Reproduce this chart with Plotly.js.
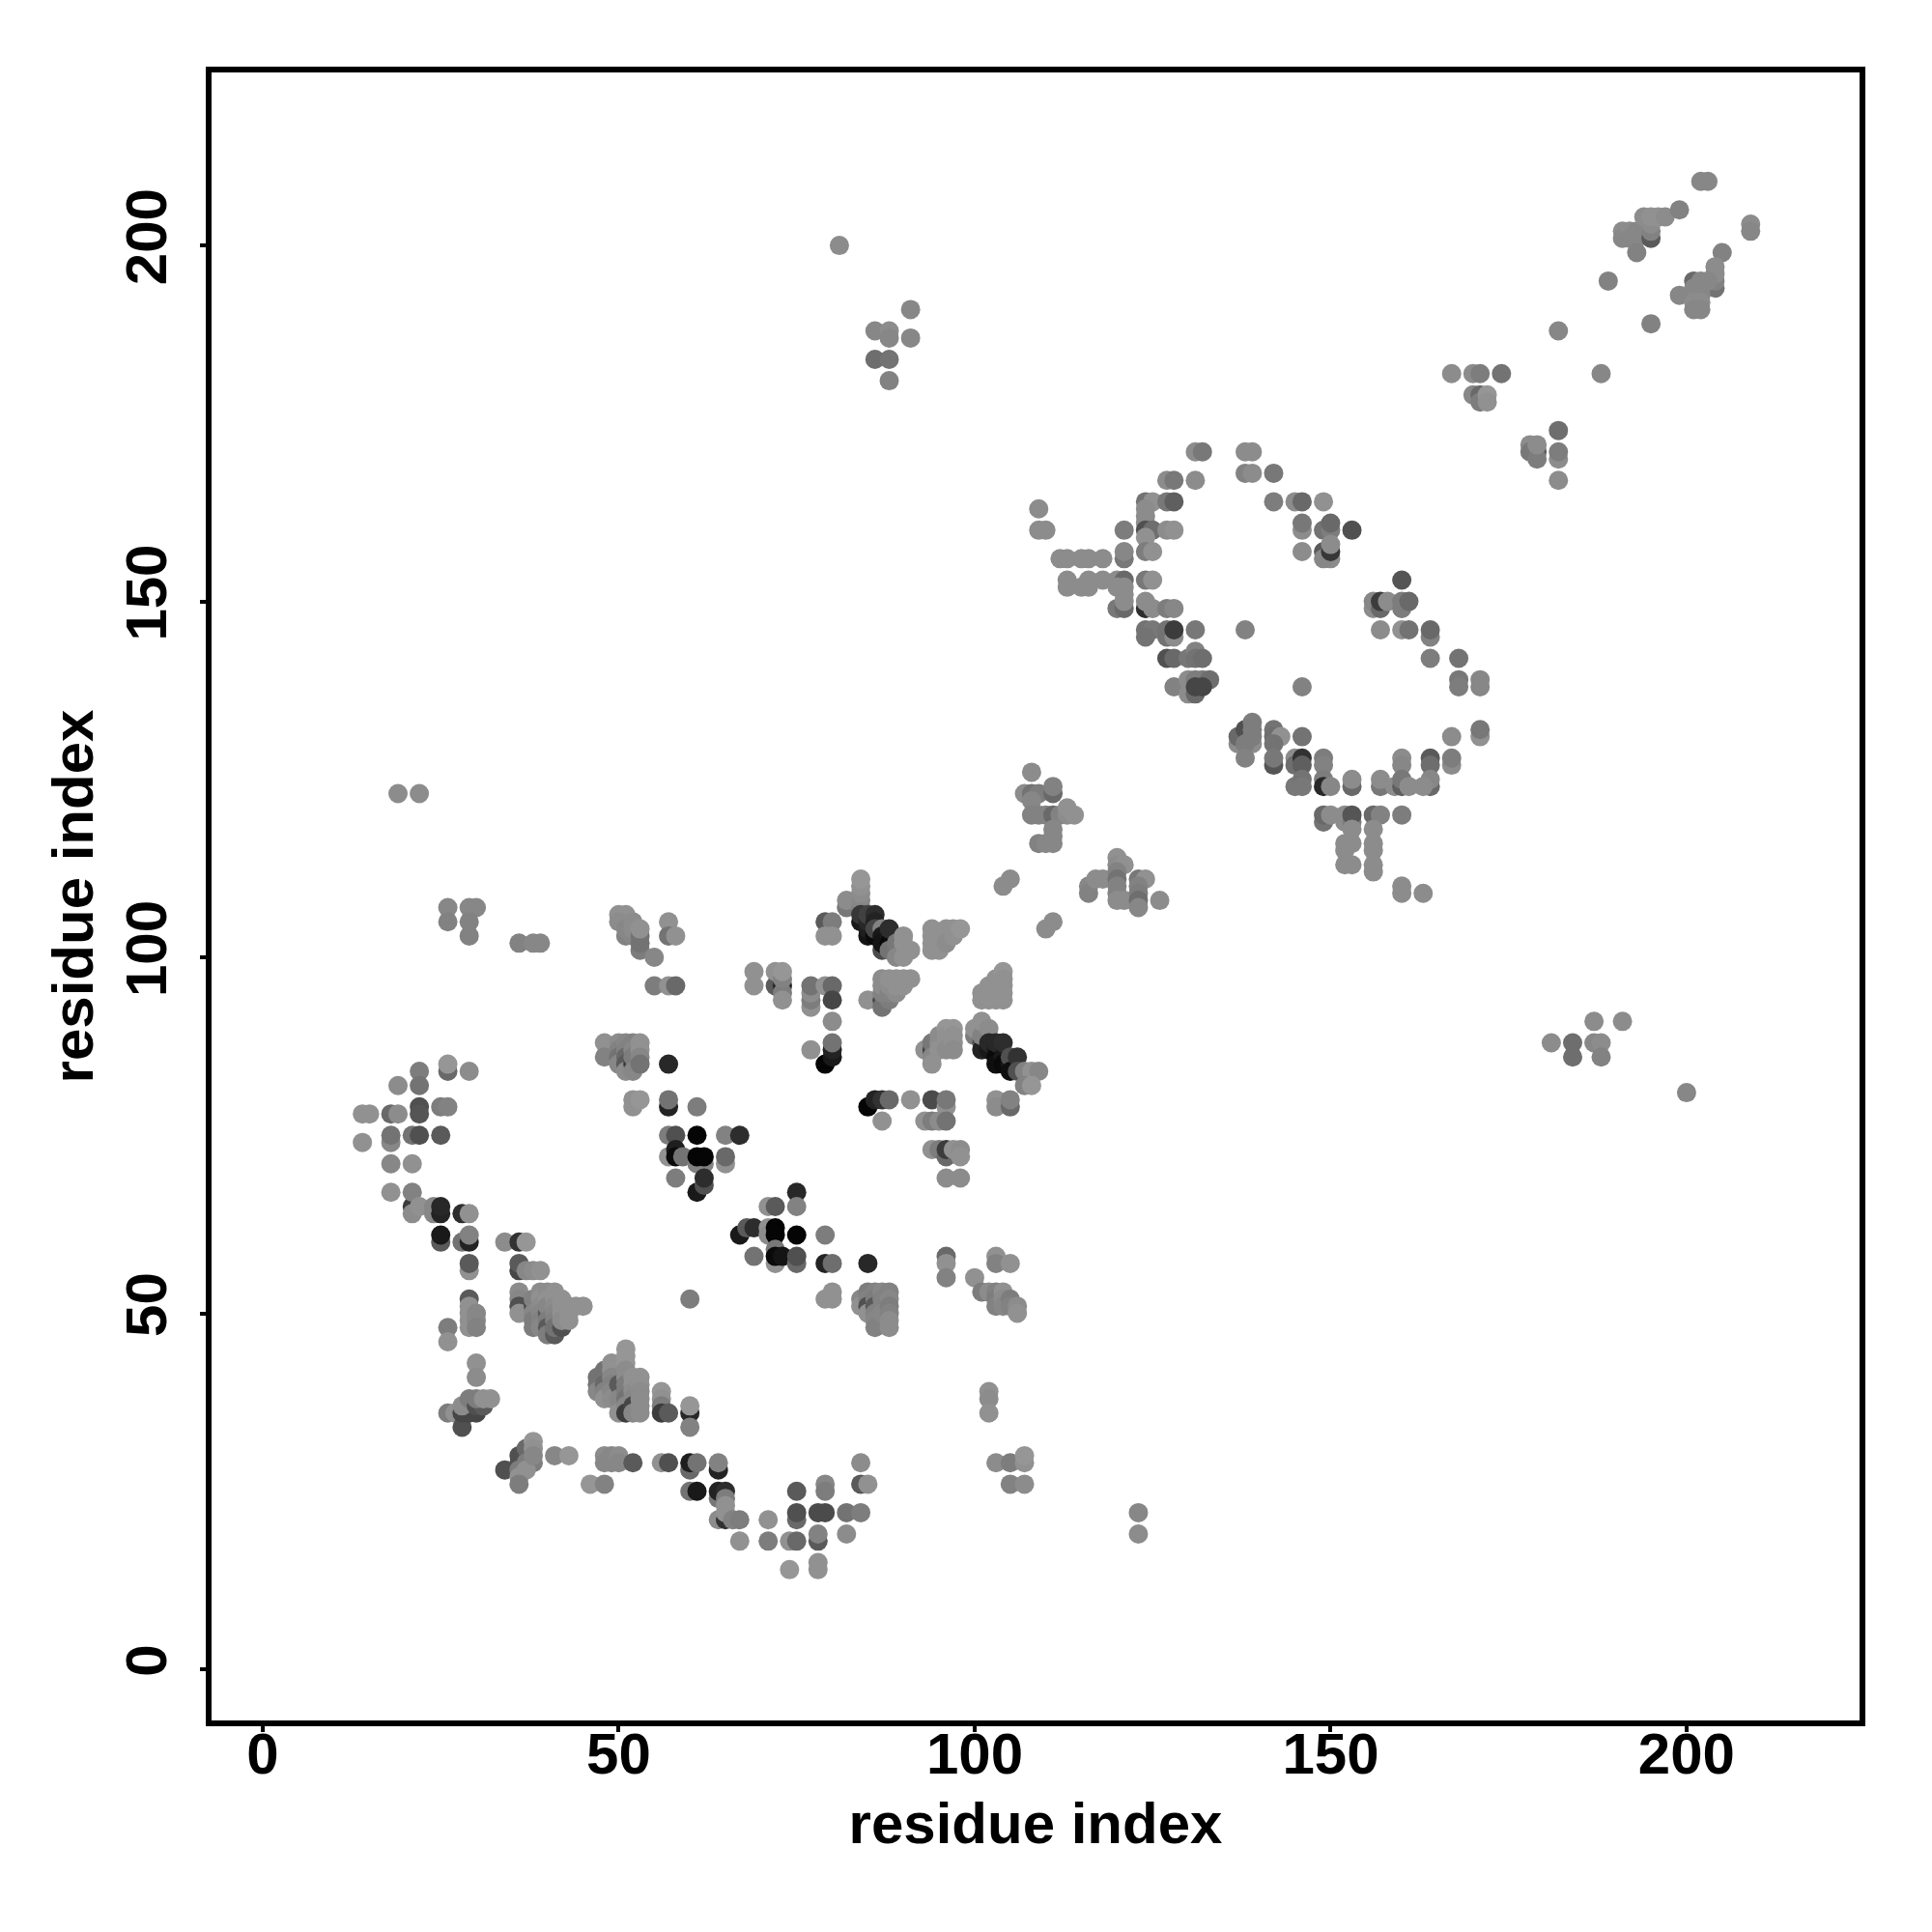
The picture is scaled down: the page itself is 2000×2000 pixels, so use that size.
<!DOCTYPE html>
<html><head><meta charset="utf-8">
<script src="https://cdn.plot.ly/plotly-3.0.1.min.js"></script>
<style>html,body{margin:0;padding:0;background:#fff}</style></head>
<body><div id="chart" style="width:2000px;height:2000px"></div>
<script>
// Each row: [residue index i, residue index j, grey level 0-255]
const contactsA=[[14,78,140],[15,78,140],[14,74,140],[18,78,100],[19,78,135],[19,82,135],[22,84,120],[22,82,110],[22,79,80],[22,78,85],[25,79,120],[26,79,125],[26,84,100],[26,85,145],[29,84,135],[18,74,130],[18,75,110],[21,75,110],[22,75,80],[25,75,90],[18,71,130],[21,71,140],[18,67,140],[21,65,60],[21,64,135],[21,67,125],[22,65,140],[24,65,130],[24,64,130],[25,64,35],[25,65,40],[28,64,45],[29,64,140],[25,60,90],[25,61,25],[28,60,110],[29,60,35],[29,61,125],[29,56,140],[29,57,90]];
const contactsB=[[34,60,135],[36,60,50],[37,60,145],[36,56,70],[36,57,90],[37,56,130],[38,56,135],[39,56,140],[29,52,90],[29,51,140],[29,50,140],[29,49,140],[29,48,140],[30,50,130],[30,49,130],[30,48,125],[26,48,120],[26,46,140],[36,53,135],[36,52,130],[36,51,80],[36,50,140],[38,51,80],[38,52,125],[38,50,130],[38,49,120],[38,48,120],[39,53,135],[39,52,140],[39,51,135],[39,50,130],[39,49,125],[39,48,130],[40,53,135],[40,52,140],[40,50,90],[40,51,130],[40,49,120],[40,48,90],[40,47,120],[41,47,90],[41,53,140],[41,52,140],[41,51,135],[41,50,130],[41,49,125],[41,48,110],[42,48,80],[42,52,140],[42,51,140],[42,50,140],[42,49,135],[43,51,140],[43,50,140],[43,49,140],[44,51,140],[45,51,140]];
const contactsC=[[30,43,140],[30,41,135],[26,36,120],[27,36,140],[28,34,80],[28,36,70],[29,36,70],[30,36,70],[28,37,135],[29,38,120],[30,37,80],[31,37,90],[30,38,120],[31,38,140],[32,38,140]];
const contactsD=[[47,41,110],[47,40,110],[47,39,130],[48,42,110],[48,41,110],[48,40,100],[48,39,125],[48,38,140],[49,43,140],[49,42,140],[49,41,130],[49,40,125],[49,39,130],[49,38,135],[50,40,90],[50,38,130],[50,36,140],[51,45,145],[51,44,145],[51,43,145],[51,42,135],[51,41,135],[51,40,120],[51,39,120],[51,38,110],[51,37,130],[51,36,60],[52,41,140],[52,40,140],[52,39,135],[52,38,130],[52,37,70],[52,36,130],[53,41,140],[53,40,140],[53,39,135],[53,38,135],[53,37,135],[53,36,135],[56,39,145],[56,38,140],[56,37,120],[56,36,60],[57,36,90],[60,36,40],[60,37,145],[60,34,125]];
const contactsE=[[36,30,80],[36,29,80],[34,28,80],[37,31,100],[37,29,120],[38,29,120],[36,28,120],[37,28,140],[36,27,140],[36,26,120],[38,32,145],[38,31,140],[38,30,130],[41,30,130],[43,30,145],[48,30,135],[48,29,130],[49,30,130],[49,29,130],[50,30,135],[50,29,130],[52,29,90],[46,26,145],[48,26,125],[56,29,140],[57,29,80],[60,28,100],[60,29,30],[61,29,110],[64,28,35],[64,29,125],[60,25,110],[61,25,25],[64,24,115],[64,25,35],[65,25,45],[65,24,120],[65,23,140],[64,21,135],[65,21,50],[65,22,140],[66,21,125],[67,21,120],[67,18,140],[71,21,140],[71,18,120],[74,18,140],[75,18,100],[74,14,145],[75,25,90],[75,21,100],[75,22,80],[78,18,90],[78,19,125],[78,15,140],[78,14,140],[79,26,130],[79,25,120],[78,22,75],[79,22,75],[82,22,110],[84,22,120],[82,19,135],[84,29,135],[84,26,90],[85,26,140],[103,29,135],[105,29,120],[107,29,140],[107,30,145],[105,26,125],[107,26,135],[102,39,140],[102,38,135],[102,36,140],[123,22,130],[123,19,135]];
const contactsF=[[48,88,140],[48,86,125],[50,88,135],[50,87,125],[50,86,110],[50,85,130],[51,88,130],[51,87,125],[51,86,100],[51,85,90],[51,84,135],[52,85,60],[52,88,125],[52,87,130],[52,86,120],[52,84,130],[53,88,140],[53,87,140],[53,86,130],[53,85,110],[57,85,40],[52,80,140],[52,79,140],[53,80,145],[57,79,35],[57,80,110],[61,79,120],[57,75,120],[58,75,80],[61,75,5],[65,75,125],[67,75,45],[57,72,140],[58,73,30],[58,72,10],[59,72,110],[61,71,125],[62,71,125],[61,72,5],[62,72,5],[65,71,140],[65,72,100],[58,69,120],[61,67,25],[62,68,80],[62,69,45]];
const contactsG=[[50,106,140],[51,106,140],[50,105,135],[51,103,125],[52,103,130],[51,104,130],[52,104,135],[52,105,135],[53,101,120],[53,102,110],[53,103,110],[53,104,140],[55,100,130],[55,96,120],[57,96,140],[58,96,100],[57,105,140],[57,103,110],[58,103,140],[69,98,140],[69,96,140],[72,96,90],[72,98,140],[73,96,40],[73,95,120],[73,94,140],[73,97,125],[73,98,145],[77,93,140],[77,94,120],[77,95,135],[77,96,110],[79,96,140],[80,96,100],[80,94,70],[80,91,135],[79,85,5],[80,86,25],[80,87,35],[80,88,110],[77,87,140]];
const contactsH=[[82,107,115],[82,108,135],[84,107,125],[84,108,130],[84,109,135],[84,110,140],[84,111,145],[79,105,90],[80,105,120],[79,103,140],[80,103,140],[84,105,25],[84,106,55],[85,103,20],[85,104,30],[85,105,40],[85,106,65],[86,106,45],[86,105,35],[86,103,10],[86,104,70],[87,101,75],[87,104,125],[87,103,25],[87,102,20],[88,103,25],[88,102,10],[88,101,110],[88,104,45],[89,102,115],[89,100,130],[90,100,140],[90,103,140],[90,102,140],[91,101,140],[94,104,140],[94,103,140],[94,102,140],[94,101,140],[95,101,140],[95,102,140],[96,104,140],[96,103,140],[96,102,135],[97,104,140],[97,103,140],[98,104,145]];
const contactsI=[[85,94,140],[87,94,70],[87,93,110],[88,94,120],[87,95,125],[87,96,135],[87,97,135],[88,95,125],[88,96,135],[88,97,140],[89,95,135],[89,96,140],[89,97,140],[90,96,140],[90,97,140],[91,97,140],[101,95,140],[101,94,140],[102,96,140],[102,95,140],[102,94,140],[103,97,140],[103,96,140],[103,95,140],[103,94,140],[104,98,145],[104,97,140],[104,96,140],[104,95,140],[104,94,140]];
const contactsJ=[[93,87,140],[94,87,70],[94,88,115],[94,86,130],[94,85,140],[95,89,135],[95,88,135],[95,87,140],[96,90,145],[96,89,140],[96,88,140],[96,87,135],[97,90,145],[97,89,140],[97,88,140],[97,87,135],[100,89,120],[100,90,140],[101,88,80],[101,87,35],[101,89,125],[101,91,140],[102,90,135],[102,87,25],[102,88,40],[103,87,30],[103,86,10],[103,85,15],[103,88,40],[104,86,25],[104,85,10],[104,88,45],[105,85,25],[105,86,80],[105,84,15],[106,86,50],[106,84,80],[107,84,125],[108,84,140],[109,84,130],[107,82,125],[108,82,145]];
const contactsK=[[85,79,5],[86,80,35],[87,80,50],[88,80,100],[91,80,140],[94,80,75],[96,79,140],[96,80,115],[87,77,140],[93,77,140],[94,77,120],[95,77,135],[96,77,110],[94,73,140],[95,73,120],[96,72,100],[96,73,60],[97,73,140],[98,73,135],[98,72,140],[96,69,135],[98,69,135],[103,80,140],[103,79,135],[105,79,100],[105,80,125],[75,67,40],[71,65,140],[72,65,90],[75,65,125],[67,61,25],[68,62,90],[69,62,45],[71,62,140],[71,61,135],[72,62,5],[72,61,5],[75,61,5],[79,61,120],[69,58,110],[72,57,140],[72,59,115],[72,58,10],[73,58,20],[75,57,100],[75,58,80],[79,57,35],[80,57,105],[85,57,40],[80,53,140],[79,52,140],[80,52,140]];
const contactsL=[[84,52,130],[84,51,140],[85,53,120],[85,52,125],[85,51,80],[85,50,140],[86,53,125],[86,52,120],[86,51,90],[86,50,125],[86,49,130],[86,48,125],[87,53,130],[87,52,125],[87,51,125],[87,50,130],[88,53,125],[88,52,130],[88,51,120],[88,50,125],[88,49,135],[88,48,135],[96,58,100],[96,57,140],[96,55,125],[100,55,140],[101,53,120],[102,53,135],[103,58,140],[103,57,125],[105,57,140],[103,53,125],[103,52,120],[103,51,125],[104,53,140],[104,52,135],[104,51,130],[105,52,120],[105,51,125],[106,51,135],[106,50,140],[60,52,120]];
const contactsM=[[108,126,135],[107,123,135],[108,123,110],[109,123,120],[111,123,100],[111,124,125],[108,122,130],[108,120,125],[109,120,125],[110,120,125],[111,120,100],[112,120,125],[113,120,135],[113,121,140],[114,120,140],[111,118,130],[111,117,130],[109,116,125],[110,116,130],[111,116,130],[116,110,130],[116,109,125],[117,111,135],[118,111,135],[120,114,140],[120,113,135],[121,113,140],[120,112,125],[120,111,110],[120,110,125],[120,109,125],[120,108,135],[121,108,135],[123,111,115],[124,111,140],[123,110,125],[123,109,120],[123,108,105],[123,107,130],[126,108,135],[105,111,135],[104,110,135],[111,105,135],[110,104,135]];
const contactsN=[[131,171,135],[132,171,115],[138,171,135],[139,171,135],[138,168,125],[139,168,135],[142,168,115],[127,167,135],[128,167,115],[131,167,135],[109,163,135],[109,160,135],[110,160,135],[124,164,110],[125,164,140],[127,164,115],[128,164,95],[124,163,135],[124,162,135],[124,161,135],[124,160,80],[125,160,105],[127,160,135],[128,160,140],[124,159,140],[124,157,120],[125,157,140],[121,160,120],[121,156,115],[121,157,130],[112,156,135],[113,156,135],[115,156,135],[116,156,135],[118,156,135],[113,153,135],[116,153,135],[118,153,135],[120,153,135],[121,153,100],[113,152,135],[115,152,135],[116,152,135],[120,152,135],[121,152,135],[124,153,115],[125,153,140],[121,151,135],[120,149,115],[121,149,100],[121,150,135],[124,149,45],[124,150,135],[125,149,135],[127,149,120],[128,149,130],[124,146,110],[125,146,115],[124,145,110],[127,145,110],[127,146,110],[128,145,135],[128,146,60],[131,146,115],[138,146,125],[127,142,80],[128,142,100],[130,142,115],[131,143,125],[131,142,110],[132,142,105],[128,138,125],[130,139,135],[131,139,120],[132,139,120],[133,139,105],[130,137,135],[131,137,100],[131,138,70],[132,138,70]];
const contactsO=[[142,164,120],[145,164,135],[146,164,100],[149,164,140],[146,160,135],[146,161,115],[149,160,110],[150,160,120],[150,161,100],[153,160,80],[146,157,135],[149,157,90],[150,156,135],[149,156,130],[150,157,55],[150,158,135],[160,153,85],[156,149,135],[156,150,130],[157,149,100],[157,150,60],[158,150,135],[160,149,120],[160,150,120],[161,150,100],[157,146,135],[160,146,140],[161,146,110],[164,145,125],[164,146,100],[164,142,120],[168,142,110],[168,139,115],[168,138,120],[171,139,130],[171,138,130],[146,138,125],[171,131,140],[171,132,115],[167,131,135]];
const contactsP=[[139,130,135],[137,130,135],[137,131,100],[138,132,80],[138,130,120],[138,128,125],[139,133,120],[139,132,120],[139,131,120],[142,132,110],[142,131,105],[143,131,140],[142,130,110],[142,127,85],[142,128,115],[146,131,110],[145,128,135],[145,127,105],[146,128,50],[146,127,95],[145,124,115],[146,125,110],[146,124,115],[149,128,120],[149,127,125],[149,125,120],[149,124,40],[150,124,130],[153,124,100],[153,125,135],[157,124,115],[157,125,135],[159,124,135],[160,128,135],[160,127,130],[160,124,95],[160,125,115],[161,124,135],[164,128,90],[164,127,105],[164,124,100],[164,125,130],[163,124,135],[167,127,135],[167,128,120],[149,119,110],[149,120,100],[150,120,135],[152,120,135],[152,119,135],[153,119,120],[153,120,85],[156,120,100],[157,120,125],[160,120,120],[153,118,135],[156,118,135],[152,116,135],[153,116,135],[152,115,135],[156,116,135],[156,115,135],[152,113,135],[153,113,135],[156,113,135],[156,112,135],[160,110,135],[160,109,135],[163,109,135]];
const contactsQ=[[167,182,135],[170,182,135],[171,182,120],[174,182,110],[170,179,130],[171,179,100],[171,178,120],[172,179,145],[172,178,140],[182,188,130],[188,182,130],[189,195,125],[195,189,125],[178,172,135],[179,171,95],[178,171,115],[179,170,120],[179,172,135],[182,174,105],[182,170,135],[182,171,120],[182,167,135],[191,202,135],[191,201,130],[192,202,135],[192,201,130],[193,201,130],[193,202,130],[193,199,125],[194,204,135],[195,201,90],[195,202,125],[195,203,135],[195,204,140],[196,204,140],[197,204,135],[199,205,125],[202,209,130],[203,209,130],[209,203,135],[209,202,130],[205,199,125],[201,195,100],[204,194,110],[204,195,125],[204,196,135],[204,197,135],[202,195,130],[203,195,130],[199,193,130],[201,194,130],[202,194,130],[202,193,130],[201,192,135],[202,192,135],[201,191,130],[202,191,130]];
const contactsR=[[81,200,135],[86,188,130],[88,188,135],[88,187,130],[91,191,130],[91,187,130],[86,184,105],[88,184,110],[88,181,125],[19,123,135],[22,123,135],[26,107,130],[26,105,125],[29,107,130],[30,107,130],[29,105,125],[29,103,125],[36,102,125],[38,102,130],[39,102,130],[181,88,135],[184,88,105],[184,86,105],[187,91,135],[187,88,130],[188,88,135],[188,86,125],[191,91,135],[200,81,130]];
const axisTicks=[0,50,100,150,200];
const axisLabels=['0','50','100','150','200'];
const allContacts=[contactsA,contactsB,contactsC,contactsD,contactsE,contactsF,contactsG,contactsH,contactsI,contactsJ,contactsK,contactsL,contactsM,contactsN,contactsO,contactsP,contactsQ,contactsR].flat();
const fontFamily='"Liberation Sans", Arial, sans-serif';
function axis(standoff,labelShift){return {
  range:[-7.19,224.3],tickmode:'array',tickvals:axisTicks,ticktext:axisLabels,
  showgrid:false,zeroline:false,showline:true,mirror:true,linecolor:'#000',linewidth:6,
  ticks:'outside',ticklen:6,tickwidth:4,tickcolor:'#000',ticklabelstandoff:labelShift,
  tickfont:{family:fontFamily,size:60,color:'#000',weight:700},
  title:{text:'<b>residue index</b>',standoff:standoff,font:{family:fontFamily,size:60,color:'#000'}},
  automargin:false};}
const layout={width:2000,height:2000,showlegend:false,paper_bgcolor:'#fff',plot_bgcolor:'#fff',
  margin:{l:219,r:75,t:75,b:219,pad:0},
  xaxis:axis(20,-29),yaxis:Object.assign(axis(4,11),{tickangle:-90})};
const shade=g=>{const v=g>=100?g+5:g;return `rgb(${v},${v},${v})`;};
const trace={type:'scatter',mode:'markers',x:allContacts.map(r=>r[0]),y:allContacts.map(r=>r[1]),
  marker:{size:20,line:{width:0},color:allContacts.map(r=>shade(r[2]))},hoverinfo:'skip'};
Plotly.newPlot('chart',[trace],layout,{displayModeBar:false,staticPlot:true});
</script></body></html>
